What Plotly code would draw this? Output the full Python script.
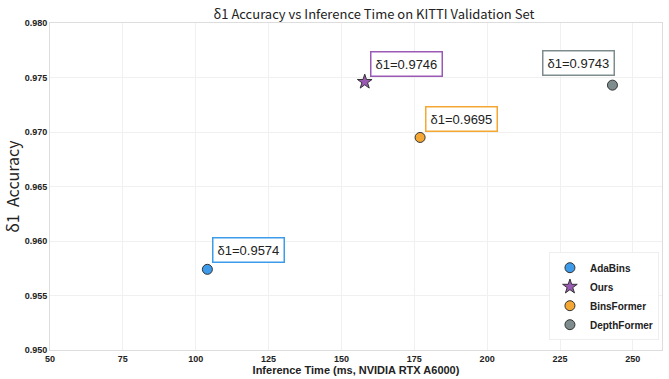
import plotly.graph_objects as go

models = ["AdaBins", "Ours", "BinsFormer", "DepthFormer"]
times = [104, 158, 177, 243]
delta1 = [0.9574, 0.9746, 0.9695, 0.9743]
colors = ["#3d9be9", "#9b59b6", "#f5a733", "#7f8c8d"]
symbols = ["circle", "star", "circle", "circle"]
sizes = [10, 11, 10, 10]
label_offsets = [(5, -6), (5, -5), (5, -5), (3, -9)]
label_anchor = ["left", "left", "left", "right"]

CJK = "Noto Sans CJK SC"

fig = go.Figure()
for m, t, d, c, s, z in zip(models, times, delta1, colors, symbols, sizes):
    fig.add_trace(go.Scatter(
        x=[t], y=[d], mode="markers", name=f"<b>{m}</b>",
        marker=dict(color=c, symbol=s, size=z, line=dict(color="#333333", width=1)),
    ))

for t, d, c, (ox, oy), xa in zip(times, delta1, colors, label_offsets, label_anchor):
    fig.add_annotation(
        x=t, y=d, text=f"δ1={d:.4f}", showarrow=True, arrowwidth=0.1, arrowcolor="rgba(0,0,0,0)",
        ax=ox, ay=oy, xanchor=xa, yanchor="bottom",
        font=dict(size=13, color="#222222", family="Liberation Sans, Arial"),
        bgcolor="white", bordercolor=c, borderwidth=1.5, borderpad=4,
    )

fig.update_layout(
    width=669, height=379,
    margin=dict(l=50, r=6, t=23, b=27),
    paper_bgcolor="white", plot_bgcolor="white",
    title=dict(text="δ1 Accuracy vs Inference Time on KITTI Validation Set",
               x=0.559, xanchor="center", y=0.5, yanchor="middle",
               yref="container", pad=dict(t=0),
               font=dict(size=13, color="#222222", family=CJK)),
    font=dict(family="Liberation Sans, Arial", color="#222222"),
    legend=dict(x=0.995, y=0.03, xanchor="right", yanchor="bottom",
                bgcolor="rgba(255,255,255,0.9)", bordercolor="#eeeeee", borderwidth=1,
                font=dict(size=10, family="Liberation Sans, Arial"),
                itemsizing="trace", tracegroupgap=0),
    showlegend=True,
)
fig.update_layout(title=dict(y=0.975, yanchor="top"))
fig.update_xaxes(
    range=[50, 260], dtick=25, tick0=50,
    title=dict(text="<b>Inference Time (ms, NVIDIA RTX A6000)</b>", font=dict(size=11), standoff=2),
    tickfont=dict(size=9), ticks="", showline=True, linecolor="#dddddd", mirror=True,
    showgrid=True, gridcolor="#f0f0f0", gridwidth=1, zeroline=False,
    tickprefix="<b>", ticksuffix="</b>",
)
fig.update_yaxes(
    range=[0.950, 0.980], dtick=0.005, tickformat=".3f",
    title=dict(text="δ1  Accuracy", font=dict(size=16, family=CJK), standoff=6),
    tickfont=dict(size=9), ticks="", showline=True, linecolor="#dddddd", mirror=True,
    showgrid=True, gridcolor="#f0f0f0", gridwidth=1, zeroline=False,
    tickprefix="<b>", ticksuffix="</b>",
)
fig.write_html("out.html")
